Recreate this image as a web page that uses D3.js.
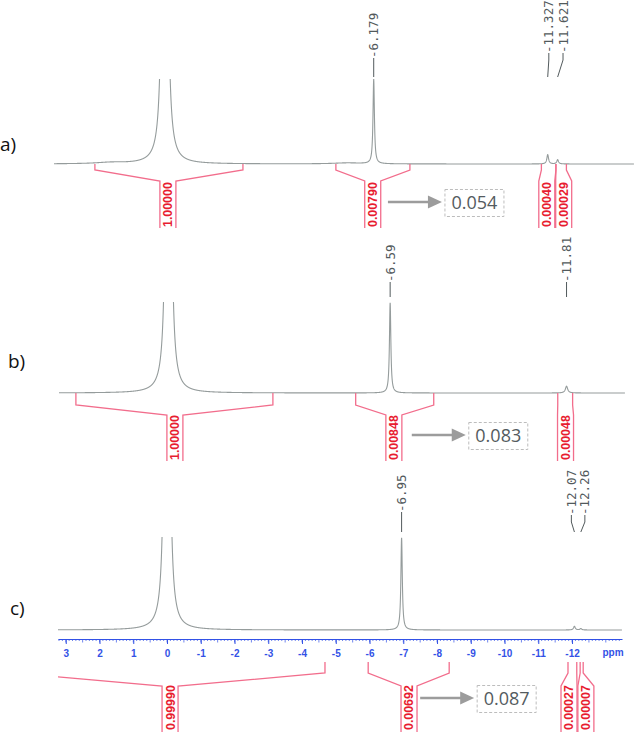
<!DOCTYPE html>
<html><head><meta charset="utf-8">
<script src="https://cdn.jsdelivr.net/npm/d3@7"></script>
<style>body{margin:0;background:#fff} svg{display:block}</style>
</head><body>
<svg id="chart" width="634" height="732"></svg>
<script>
// ---------------- DATA ----------------
const panelNames = ["a)", "b)", "c)"];
const ppmDomainA = [3.28, -13.88];
const ppmDomainB = [3.21, -13.54];
const ppmDomainC = [3.23, -13.48];

// peaks: centre (ppm), height (% of plotted window), half-width (ppm)
const peakPpmA    = [0.0, -6.179, -11.327, -11.621, 1.6, -5.4];
const peakHeightA = [25000, 99, 11, 5, 1.5, 1.2];
const peakWidthA  = [0.01, 0.025, 0.03, 0.03, 0.5, 0.5];

const peakPpmB    = [-0.03, -6.59, -11.81];
const peakHeightB = [21900, 99, 7.5];
const peakWidthB  = [0.01, 0.025, 0.04];

const peakPpmC    = [0.0, -6.95, -12.07, -12.26];
const peakHeightC = [21900, 99, 4, 1.5];
const peakWidthC  = [0.01, 0.025, 0.03, 0.03];

// peak labels: peak position, label column position (ppm)
const labelPpmA = [-6.179, -11.327, -11.621];
const labelPosA = [-6.179, -11.36, -11.78];
const labelPpmB = [-6.59, -11.81];
const labelPosB = [-6.59, -11.81];
const labelPpmC = [-6.95, -12.07, -12.26];
const labelPosC = [-6.95, -11.98, -12.38];
const labelDecimals = [3, 2, 2];

// integrals: range (ppm), stem position (ppm), value
const intFromA  = [2.07, -5.06, -11.14, -11.57];
const intToA    = [-2.31, -7.25, -11.57, -11.88];
const intStemA  = [-0.09, -6.15, -11.30, -11.80];
const intValueA = ["1.00000", "0.00790", "0.00040", "0.00029"];

const intFromB  = [2.71, -5.57, -11.55];
const intToB    = [-3.12, -7.88, -11.99];
const intStemB  = [-0.22, -6.70, -11.78];
const intValueB = ["1.00000", "0.00848", "0.00048"];

const intFromC  = [4.50, -5.96, -11.88, -12.24];
const intToC    = [-4.68, -8.36, -12.14, -12.33];
const intStemC  = [-0.09, -7.17, -11.91, -12.41];
const intValueC = ["0.99990", "0.00692", "0.00027", "0.00007"];

// ratio annotations
const ratioValues = ["0.054", "0.083", "0.087"];
const ratioPpm = [-6.60, -7.23, -7.50];

// axis (panel c)
const axisTicks = d3.range(3, -13, -1);

// ---------------- LAYOUT ----------------
const layout = [
  {x0: 54, x1: 634, base: 164, top: 79, nameX: 0, nameY: 151,
   lblBottom: 77, lblStraight: 58, lblKnee: 60, lblSlant: 53,
   bTop: 164, bV: 170, bS: 181, bBottom: 228, bText: 227, arrowY: 202},
  {x0: 59, x1: 625, base: 393, top: 302, nameX: 8, nameY: 368,
   lblBottom: 297, lblStraight: 282, lblKnee: 288, lblSlant: 280,
   bTop: 393, bV: 405, bS: 415, bBottom: 461, bText: 460, arrowY: 435},
  {x0: 58, x1: 622, base: 630, top: 537, nameX: 10, nameY: 615,
   lblBottom: 532, lblStraight: 512, lblKnee: 522, lblSlant: 515,
   bTop: 662, bV: 673, bS: 686, bBottom: 745, bText: 730, arrowY: 698}
];

const panels = [
  {dom: ppmDomainA, pp: peakPpmA, ph: peakHeightA, pw: peakWidthA, lp: labelPpmA, lx: labelPosA,
   iF: intFromA, iT: intToA, iS: intStemA, iV: intValueA},
  {dom: ppmDomainB, pp: peakPpmB, ph: peakHeightB, pw: peakWidthB, lp: labelPpmB, lx: labelPosB,
   iF: intFromB, iT: intToB, iS: intStemB, iV: intValueB},
  {dom: ppmDomainC, pp: peakPpmC, ph: peakHeightC, pw: peakWidthC, lp: labelPpmC, lx: labelPosC,
   iF: intFromC, iT: intToC, iS: intStemC, iV: intValueC}
];

const SPEC = "#959c9c", PINK = "#f26d8c", RED = "#e81c30", LABEL = "#525a5c", BLUE = "#3352e6";
const svg = d3.select("#chart");
const defs = svg.append("defs");

panels.forEach((p, i) => {
  const L = layout[i];
  const x = d3.scaleLinear().domain(p.dom).range([L.x0, L.x1]);
  const y = d3.scaleLinear().domain([0, 100]).range([L.base, L.top]);
  const g = svg.append("g");

  defs.append("clipPath").attr("id", "clipS" + i).append("rect")
    .attr("x", L.x0).attr("y", L.top).attr("width", L.x1 - L.x0).attr("height", L.base - L.top + 10);
  defs.append("clipPath").attr("id", "clipB" + i).append("rect")
    .attr("x", L.x0).attr("y", 0).attr("width", L.x1 - L.x0).attr("height", 732);

  // panel name
  g.append("text").attr("x", L.nameX).attr("y", L.nameY).text(panelNames[i])
    .attr("font-family", "Open Sans, sans-serif").attr("font-size", 19).attr("fill", "#111");

  // spectrum
  const grid = d3.range(p.dom[0], p.dom[1], -0.002);
  const intensity = v => d3.sum(p.pp, (c, k) => p.ph[k] * p.pw[k] * p.pw[k] / (p.pw[k] * p.pw[k] + (v - c) * (v - c)));
  const line = d3.line().x(v => x(v)).y(v => y(intensity(v)));
  g.append("path").attr("d", line(grid)).attr("fill", "none").attr("stroke", SPEC)
    .attr("stroke-width", 1.1).attr("clip-path", `url(#clipS${i})`);

  // peak labels
  p.lp.forEach((pk, k) => {
    const px = x(pk), lx = x(p.lx[k]);
    const slanted = Math.abs(px - lx) > 0.8;
    let pts, tb;
    if (slanted) { pts = [[px, L.lblBottom], [lx, L.lblKnee], [lx, L.lblSlant]]; tb = L.lblSlant; }
    else { pts = [[px, L.lblBottom], [px, L.lblStraight]]; tb = L.lblStraight; }
    g.append("path").attr("d", d3.line()(pts)).attr("fill", "none").attr("stroke", LABEL).attr("stroke-width", 1);
    g.append("text").attr("transform", `translate(${lx},${tb}) rotate(-90)`)
      .attr("dy", "0.36em").attr("font-family", "DejaVu Sans Mono, monospace").attr("font-size", 12.5)
      .attr("fill", LABEL).text(pk.toFixed(labelDecimals[i]));
  });

  // integrals
  const bg = g.append("g").attr("clip-path", `url(#clipB${i})`);
  p.iF.forEach((f, k) => {
    const x1 = x(f), x2 = x(p.iT[k]), sc = x(p.iS[k]), sl = sc - 8, sr = sc + 8;
    const path = `M${x1},${L.bTop}V${L.bV}L${sl},${L.bS}V${L.bBottom}M${x2},${L.bTop}V${L.bV}L${sr},${L.bS}V${L.bBottom}`;
    bg.append("path").attr("d", path).attr("fill", "none").attr("stroke", PINK).attr("stroke-width", 1.3);
    bg.append("text").attr("transform", `translate(${sc},${L.bText}) rotate(-90)`)
      .attr("dy", "0.36em").attr("font-family", "Liberation Sans, Arial, sans-serif").attr("font-weight", "bold")
      .attr("font-size", 12.4).attr("fill", RED).text(p.iV[k]);
  });

  // ratio arrow + box
  const ax = x(ratioPpm[i]), ay = L.arrowY;
  g.append("line").attr("x1", ax).attr("x2", ax + 42).attr("y1", ay).attr("y2", ay)
    .attr("stroke", "#9c9c9c").attr("stroke-width", 2.5);
  g.append("path").attr("d", `M${ax + 40},${ay - 6.5}L${ax + 54},${ay}L${ax + 40},${ay + 6.5}Z`).attr("fill", "#9c9c9c");
  g.append("rect").attr("x", ax + 57).attr("y", ay - 12.5).attr("width", 59).attr("height", 27)
    .attr("fill", "none").attr("stroke", "#bdbdbd").attr("stroke-dasharray", "3,2");
  g.append("text").attr("x", ax + 86.5).attr("y", ay + 1).attr("dy", "0.35em").attr("text-anchor", "middle")
    .attr("font-family", "Open Sans, sans-serif").attr("font-size", 18).attr("fill", "#545b60").text(ratioValues[i]);

  // axis for panel c
  if (i === 2) {
    const axY = 639;
    const ag = g.append("g").attr("transform", `translate(0,${axY})`);
    const axis = d3.axisBottom(x).tickValues(axisTicks).tickSize(5).tickSizeOuter(0).tickPadding(6)
      .tickFormat(d => String(d));
    ag.call(axis);
    ag.select(".domain").attr("stroke", BLUE).attr("stroke-width", 1);
    ag.selectAll(".tick line").attr("stroke", BLUE);
    ag.selectAll(".tick text").attr("fill", BLUE).attr("font-family", "Liberation Sans, Arial, sans-serif")
      .attr("font-weight", "bold").attr("font-size", 10);
    const minor = d3.range(3.2, -13.45, -0.1);
    ag.selectAll(".minor").data(minor).enter().append("line")
      .attr("x1", d => x(d)).attr("x2", d => x(d)).attr("y1", 0)
      .attr("y2", d => Math.abs(d * 2 - Math.round(d * 2)) < 0.01 ? 3.5 : 2)
      .attr("stroke", BLUE).attr("stroke-width", 0.7);
    ag.append("text").attr("x", 613).attr("y", 17).attr("text-anchor", "middle")
      .attr("fill", BLUE).attr("font-family", "Liberation Sans, Arial, sans-serif")
      .attr("font-weight", "bold").attr("font-size", 10).text("ppm");
  }
});
</script>
</body></html>
